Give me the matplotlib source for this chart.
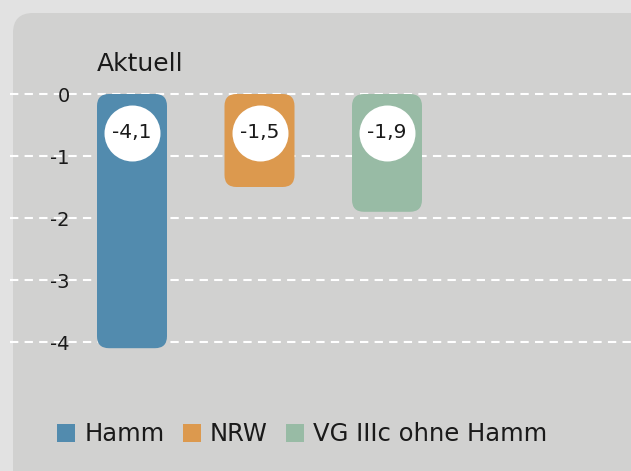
import numpy as np
import matplotlib
matplotlib.use('Agg')
import matplotlib.pyplot as plt
from matplotlib.patches import FancyBboxPatch, Patch
from matplotlib.transforms import IdentityTransform

# Data
categories = ['Hamm', 'NRW', 'VG IIIc ohne Hamm']
values = [-4.1, -1.5, -1.9]
colors = ['#528bae', '#dc994e', '#98bba5']
yticks = [0, -1, -2, -3, -4]
title = 'Aktuell'

plt.rcParams['font.family'] = ['DejaVu Sans']
plt.rcParams['axes.unicode_minus'] = False

W, H, DPI = 631, 471, 100
fig = plt.figure(figsize=(W / DPI, H / DPI), dpi=DPI, facecolor='#e2e2e2')

# Rounded panel behind the chart (pixel coords)
panel = FancyBboxPatch((13, -40), W + 40, H - 13 + 40,
                       boxstyle='round,pad=0,rounding_size=20',
                       transform=IdentityTransform(), facecolor='#d1d1d0',
                       edgecolor='none', zorder=-10)
fig.patches.append(panel)

# Axes mapped so that 0 sits at y=94px and 1 unit = 62px, bars 127.5px apart
ax = fig.add_axes([10 / W, 0, 1 - 10 / W, 1])
ax.set_facecolor('none')
ax.set_ylim(-(H - 94) / 62, 94 / 62)
ax.set_xlim((10 - 132) / 127.5, (W - 132) / 127.5)

x = np.arange(len(values))
bar_w = 70 / 127.5
aspect = 127.5 / 62
for xi, v, c in zip(x, values, colors):
    bar = FancyBboxPatch((xi - bar_w / 2, v), bar_w, -v,
                         boxstyle='round,pad=0,rounding_size=0.094',
                         mutation_aspect=aspect, facecolor=c,
                         edgecolor='none', zorder=3)
    ax.add_patch(bar)

# white circles with value labels
circle_y = -(133 - 94) / 62
ax.scatter(x, [circle_y] * len(x), s=1625, color='white', zorder=4, linewidths=0)
for xi, v in zip(x, values):
    ax.text(xi, circle_y, f'{v:.1f}'.replace('.', ','), ha='center', va='center',
            fontsize=14.5, color='#1a1a1a', zorder=5)

# grid and y tick labels
ax.set_yticks(yticks)
ax.set_yticklabels([str(t) for t in yticks])
ax.set_xticks([])
ax.grid(axis='y', color='white', linestyle=(0, (4, 3)), linewidth=1.5, zorder=1)
ax.set_axisbelow(True)
ax.tick_params(axis='y', length=0, pad=-43, labelsize=14, labelcolor='#1a1a1a')
for s in ax.spines.values():
    s.set_visible(False)

fig.text(97 / W, 1 - 71 / H, title, fontsize=18, color='#1a1a1a', va='baseline')

handles = [Patch(facecolor=c, edgecolor='none', label=l) for c, l in zip(colors, categories)]
fig.legend(handles=handles, loc='center left', bbox_to_anchor=(57 / W, 1 - 434 / H),
           ncol=3, frameon=False, fontsize=17.5, handlelength=0.76, handleheight=0.76,
           handletextpad=0.37, columnspacing=0.74, labelcolor='#1a1a1a',
           borderpad=0, borderaxespad=0)

fig.savefig('out.png', dpi=DPI, facecolor=fig.get_facecolor())
